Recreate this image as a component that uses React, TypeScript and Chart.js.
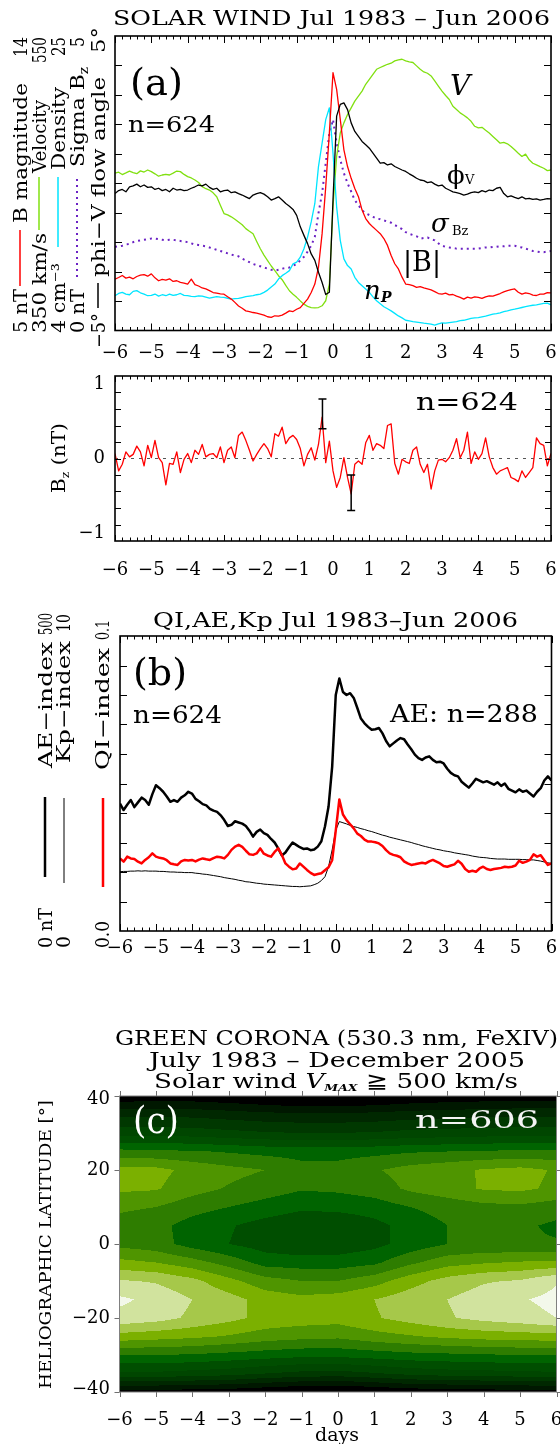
import React, { useEffect, useRef } from "react";
import { Chart, registerables } from "chart.js";

Chart.register(...registerables);

const W = 560;
const FONT = '"DejaVu Serif", serif';

// ---------- shared x grid (days from shock) ----------
const days = [-6,-5.9,-5.8,-5.7,-5.6,-5.5,-5.4,-5.3,-5.2,-5.1,-5,-4.9,-4.8,-4.7,-4.6,-4.5,-4.4,-4.3,-4.2,-4.1,-4,-3.9,-3.8,-3.7,-3.6,-3.5,-3.4,-3.3,-3.2,-3.1,-3,-2.9,-2.8,-2.7,-2.6,-2.5,-2.4,-2.3,-2.2,-2.1,-2,-1.9,-1.8,-1.7,-1.6,-1.5,-1.4,-1.3,-1.2,-1.1,-1,-0.9,-0.8,-0.7,-0.6,-0.5,-0.4,-0.3,-0.2,-0.1,0,0.1,0.2,0.3,0.4,0.5,0.6,0.7,0.8,0.9,1,1.1,1.2,1.3,1.4,1.5,1.6,1.7,1.8,1.9,2,2.1,2.2,2.3,2.4,2.5,2.6,2.7,2.8,2.9,3,3.1,3.2,3.3,3.4,3.5,3.6,3.7,3.8,3.9,4,4.1,4.2,4.3,4.4,4.5,4.6,4.7,4.8,4.9,5,5.1,5.2,5.3,5.4,5.5,5.6,5.7,5.8,5.9,6];

const dayTicks = [-6,-5,-4,-3,-2,-1,0,1,2,3,4,5,6];
const dayTickLabels = ["\u22126","\u22125","\u22124","\u22123","\u22122","\u22121","0","1","2","3","4","5","6"];

// ---------- panel (a) solar wind ----------
const velocity = [
456.8,457.5,455.9,457.0,458.2,457.2,456.5,458.4,457.6,459.0,
457.9,456.4,454.8,455.6,456.1,455.6,456.9,458.3,457.9,456.0,
454.5,453.6,452.2,450.5,447.7,446.3,445.4,443.5,440.8,435.0,
429.4,428.5,427.2,425.6,423.7,421.8,419.2,417.4,415.7,410.5,
405.5,401.2,397.5,393.8,390.7,387.2,384.5,380.6,377.0,374.6,
372.5,370.1,367.9,366.4,365.6,365.3,365.6,366.8,370.2,381.6,
434.0,468.2,484.1,491.0,496.7,501.2,505.8,509.2,512.6,517.2,
520.6,524.0,527.4,528.6,529.7,530.8,531.5,533.1,533.8,534.2,
533.1,532.4,532.0,529.7,527.4,525.6,524.7,522.9,519.5,516.0,
512.6,509.6,506.9,502.3,500.1,497.8,496.2,494.4,492.1,488.7,
487.6,488.0,486.0,484.1,481.8,479.5,477.2,477.7,476.8,475.0,
472.7,470.4,468.2,469.8,465.9,463.6,462.5,461.3,460.2,458.6,
459.0];

const bMagnitude = [
6.57,6.62,6.68,6.60,6.63,6.58,6.65,6.69,6.71,6.66,
6.73,6.61,6.52,6.56,6.54,6.58,6.50,6.52,6.47,6.45,
6.42,6.57,6.40,6.36,6.30,6.27,6.22,6.16,6.14,6.12,
6.11,6.03,5.96,5.86,5.75,5.68,5.60,5.58,5.55,5.53,
5.50,5.47,5.42,5.40,5.45,5.44,5.47,5.53,5.60,5.58,
5.65,5.70,5.83,5.96,6.16,6.42,6.93,7.96,9.39,11.04,
12.88,12.37,11.45,10.52,10.01,9.65,9.34,9.09,8.68,8.42,
8.27,8.16,8.06,7.96,7.81,7.60,7.29,7.04,6.88,6.63,
6.42,6.40,6.37,6.32,6.34,6.30,6.27,6.24,6.19,6.13,
6.11,6.14,6.09,6.10,6.05,6.01,5.96,6.02,5.99,6.03,
6.01,5.98,6.03,6.06,6.05,6.09,6.13,6.18,6.22,6.25,
6.27,6.17,6.11,6.15,6.13,6.08,6.07,6.11,6.11,6.16,
6.15];

const density = [
6.48,6.64,6.72,6.60,6.55,6.79,6.84,6.69,6.60,6.48,
6.50,6.60,6.45,6.55,6.48,6.60,6.50,6.55,6.64,6.50,
6.48,6.44,6.41,6.47,6.45,6.38,6.31,6.36,6.41,6.38,
6.36,6.30,6.24,6.27,6.29,6.35,6.41,6.45,6.48,6.55,
6.60,6.72,6.88,7.10,7.31,7.67,7.91,8.08,8.27,8.75,
8.87,9.23,9.83,10.66,11.74,13.06,15.69,17.36,19.04,19.88,
16.65,12.82,10.43,9.11,8.63,8.39,7.79,7.43,7.19,6.96,
6.72,6.40,6.12,5.90,5.69,5.55,5.40,5.22,5.04,4.90,
4.73,4.68,4.63,4.60,4.56,4.52,4.49,4.45,4.39,4.47,
4.54,4.52,4.56,4.60,4.63,4.70,4.73,4.80,4.87,4.90,
4.92,4.97,5.02,5.10,5.16,5.20,5.26,5.35,5.40,5.47,
5.52,5.58,5.64,5.70,5.76,5.80,5.83,5.88,5.93,5.95,
5.83];

const sigmaBz = [
1.42,1.43,1.44,1.46,1.47,1.50,1.52,1.53,1.54,1.55,
1.56,1.56,1.55,1.54,1.53,1.54,1.54,1.53,1.52,1.51,
1.50,1.48,1.46,1.45,1.44,1.43,1.41,1.39,1.37,1.35,
1.33,1.31,1.29,1.27,1.26,1.22,1.19,1.16,1.13,1.11,
1.09,1.07,1.05,1.03,1.02,1.03,1.05,1.06,1.07,1.10,
1.13,1.19,1.25,1.34,1.44,1.59,1.99,2.33,2.84,3.35,
3.58,3.18,2.90,2.67,2.50,2.36,2.21,2.13,2.04,1.99,
1.96,1.93,1.90,1.89,1.87,1.85,1.83,1.79,1.76,1.72,
1.67,1.64,1.62,1.60,1.56,1.57,1.58,1.55,1.53,1.48,
1.44,1.42,1.41,1.40,1.39,1.39,1.39,1.39,1.39,1.39,
1.39,1.40,1.41,1.41,1.42,1.42,1.43,1.43,1.44,1.44,
1.44,1.42,1.41,1.39,1.37,1.35,1.34,1.33,1.33,1.34,
1.35];

const phiV = [
-0.35,-0.25,-0.21,-0.29,-0.12,-0.09,-0.03,-0.12,-0.06,-0.14,
-0.12,-0.21,-0.17,-0.25,-0.21,-0.29,-0.17,-0.23,-0.21,-0.25,
-0.23,-0.17,-0.12,-0.06,-0.09,-0.03,-0.14,-0.21,-0.17,-0.29,
-0.25,-0.23,-0.32,-0.29,-0.35,-0.40,-0.46,-0.52,-0.40,-0.35,
-0.32,-0.37,-0.46,-0.57,-0.52,-0.46,-0.57,-0.69,-0.78,-0.89,
-1.09,-1.48,-1.77,-2.05,-2.40,-2.62,-3.02,-3.37,-3.78,-3.70,
-0.57,2.28,2.68,2.73,2.50,2.05,1.76,1.59,1.42,1.31,
1.19,1.02,0.85,0.68,0.70,0.62,0.66,0.57,0.51,0.45,
0.40,0.32,0.25,0.17,0.11,0.09,0.02,0.05,-0.03,-0.09,
-0.06,-0.17,-0.23,-0.29,-0.32,-0.35,-0.40,-0.37,-0.32,-0.29,
-0.32,-0.25,-0.29,-0.23,-0.25,-0.17,-0.14,-0.35,-0.46,-0.43,
-0.48,-0.52,-0.46,-0.53,-0.51,-0.55,-0.53,-0.57,-0.55,-0.52,
-0.53];

// ---------- Bz panel ----------
const bz = [
0.06,-0.15,-0.07,0.08,0.02,0.05,0.15,0.08,-0.09,0.16,
0.01,0.22,0.01,-0.05,-0.32,-0.06,-0.07,0.08,-0.17,-0.01,
0.06,-0.05,0.10,0.05,0.17,0.02,0.05,0.06,0.01,0.14,
-0.05,0.10,0.14,0.01,0.28,0.32,0.22,0.10,-0.03,0.05,
0.12,0.18,0.12,0.02,0.30,0.27,0.38,0.18,0.25,0.28,
0.23,0.12,-0.09,0.05,0.13,-0.02,0.17,0.50,-0.05,0.21,
-0.15,-0.35,-0.23,0.01,-0.23,-0.43,-0.07,-0.03,-0.07,0.19,
0.28,0.10,0.18,0.16,0.12,0.40,0.42,-0.06,-0.19,-0.01,
-0.04,-0.06,0.10,0.14,-0.07,-0.17,-0.07,-0.37,-0.15,-0.02,
-0.01,-0.04,0.01,0.10,0.24,0.01,0.10,0.32,-0.06,0.08,
-0.01,0.06,0.25,0.02,-0.11,-0.19,-0.15,-0.13,-0.11,-0.23,
-0.25,-0.28,-0.15,-0.23,-0.17,-0.11,0.25,0.18,0.16,-0.09,
0.06];
const bzErrDays = [-0.29, 0.5];
const bzErrLow = [0.36, -0.63];
const bzErrHigh = [0.72, -0.2];
const zeroLineDays = [-6, 6];
const zeroLineValues = [0, 0];
const bzTickValues = [1, 0, -1];
const bzTickLabels = ["1", "0", "\u22121"];

// ---------- panel (b) QI, AE, Kp ----------
const aeIndex = [
216,205,214,222,210,218,226,222,214,232,
247,242,236,228,219,222,219,226,230,236,
233,224,220,215,213,207,204,202,196,188,
178,180,186,184,182,178,170,160,168,172,
166,163,156,150,140,128,133,142,150,146,
142,139,140,137,138,143,152,177,211,278,
400,428,405,400,403,395,378,360,352,346,
341,342,344,335,322,313,318,323,327,325,
316,308,299,293,290,294,296,290,286,287,
284,275,268,264,262,253,248,243,250,258,
255,252,254,251,248,252,246,250,241,238,
235,240,236,238,233,228,236,242,255,262,
255];

const kpIndex = [
2.01,2.02,2.02,2.03,2.03,2.04,2.03,2.04,2.03,2.03,
2.03,2.02,2.02,2.01,2.00,2.00,1.99,1.99,1.98,1.98,
1.98,1.96,1.95,1.93,1.92,1.90,1.88,1.86,1.84,1.81,
1.79,1.77,1.75,1.72,1.70,1.67,1.66,1.64,1.62,1.61,
1.59,1.58,1.57,1.56,1.55,1.54,1.53,1.52,1.51,1.51,
1.50,1.51,1.52,1.53,1.57,1.62,1.71,1.84,2.18,2.75,
3.42,3.71,3.67,3.63,3.58,3.54,3.51,3.47,3.44,3.40,
3.37,3.33,3.29,3.25,3.22,3.18,3.15,3.12,3.09,3.06,
3.03,3.00,2.96,2.93,2.89,2.86,2.83,2.80,2.77,2.75,
2.72,2.70,2.68,2.65,2.63,2.61,2.59,2.57,2.54,2.52,
2.50,2.49,2.48,2.46,2.45,2.44,2.44,2.44,2.43,2.43,
2.43,2.43,2.42,2.42,2.41,2.41,2.39,2.37,2.34,2.31,
2.29];

const qiIndex = [
0.0246,0.0235,0.0252,0.0246,0.0244,0.0235,0.0229,0.0241,0.0250,0.0263,
0.0252,0.0248,0.0246,0.0240,0.0229,0.0226,0.0224,0.0236,0.0241,0.0239,
0.0241,0.0236,0.0242,0.0246,0.0243,0.0241,0.0247,0.0252,0.0250,0.0246,
0.0258,0.0275,0.0286,0.0292,0.0285,0.0272,0.0260,0.0258,0.0263,0.0280,
0.0262,0.0256,0.0252,0.0268,0.0280,0.0258,0.0229,0.0218,0.0209,0.0212,
0.0229,0.0218,0.0207,0.0197,0.0190,0.0193,0.0196,0.0206,0.0216,0.0240,
0.0340,0.0446,0.0395,0.0376,0.0362,0.0348,0.0330,0.0322,0.0310,0.0303,
0.0303,0.0301,0.0297,0.0288,0.0274,0.0263,0.0258,0.0255,0.0250,0.0236,
0.0229,0.0224,0.0226,0.0229,0.0231,0.0229,0.0236,0.0241,0.0235,0.0229,
0.0220,0.0218,0.0222,0.0226,0.0238,0.0228,0.0210,0.0201,0.0204,0.0201,
0.0212,0.0218,0.0210,0.0207,0.0210,0.0212,0.0214,0.0218,0.0216,0.0218,
0.0222,0.0238,0.0231,0.0235,0.0241,0.0260,0.0252,0.0257,0.0240,0.0224,
0.0229];

// ---------- panel (c) green corona ----------
const coronaDays = [-6,-5,-4,-3,-2,-1,0,1,2,3,4,5,6];
const coronaLats = [40,35,30,25,20,15,10,5,0,-5,-10,-15,-20,-25,-30,-35,-40];
const coronaGrid = [
[0.2,0.3,0.3,0.1,-0.2,-0.5,-0.5,-0.3,0.0,0.2,0.3,0.4,0.4],
[2.8,2.8,2.7,2.5,2.3,2.2,2.2,2.3,2.5,2.6,2.7,2.8,2.8],
[4.6,4.6,4.5,4.3,4.1,4.0,4.0,4.1,4.3,4.4,4.5,4.6,4.6],
[7.3,7.2,7.1,6.9,6.7,6.6,6.6,6.7,6.9,7.0,7.1,7.2,7.2],
[9.4,9.3,8.7,8.3,8.0,7.4,7.4,7.9,8.4,8.7,9.1,9.3,8.9],
[9.2,9.1,8.4,7.9,7.5,7.1,7.2,7.5,8.2,8.6,9.1,9.2,8.8],
[8.2,8.0,7.4,7.0,6.6,6.2,6.3,6.5,7.0,7.4,7.7,7.8,7.5],
[7.6,7.3,6.6,6.1,5.6,5.2,5.2,5.7,6.4,7.0,7.3,7.2,6.8],
[7.7,7.4,6.6,6.0,5.5,5.2,5.3,5.7,6.4,7.0,7.2,7.1,7.1],
[9.3,9.0,8.4,7.6,6.6,6.5,6.5,6.8,7.8,8.6,8.9,9.1,9.2],
[11.1,10.9,10.3,9.3,8.4,8.0,8.0,8.6,9.6,10.4,10.9,11.1,11.9],
[12.2,11.7,11.0,10.4,9.6,9.3,9.5,10.0,10.6,11.0,11.5,11.9,12.3],
[11.7,11.4,10.8,10.3,9.7,9.5,9.4,9.9,10.4,10.9,11.3,11.6,12.0],
[9.6,9.4,9.2,8.9,8.5,8.3,8.2,8.6,8.9,9.2,9.4,9.5,9.6],
[7.0,7.0,6.9,6.7,6.5,6.3,6.3,6.5,6.7,6.8,6.9,7.0,7.0],
[4.8,4.8,4.6,4.4,4.0,3.7,3.6,3.9,4.3,4.5,4.6,4.7,4.8],
[0.5,0.5,0.4,0.3,0.0,-0.3,-0.4,-0.1,0.2,0.3,0.4,0.5,0.6],
];
const coronaColors = ["#000000","#001800","#002800","#003800","#004600","#004e00","#006400","#2e7d00","#4f9500","#7bb000","#a6c84a","#d1e39e","#f3f8ea"];
const latTickValues = [40, 20, 0, -20, -40];
const latTickLabels = ["40", "20", "0", "\u221220", "\u221240"];

// ---------- helpers ----------
const pts = (vals: number[]) => days.map((d, i) => ({ x: d, y: vals[i] }));

const lineDs = (label: string, vals: number[], yAxisID: string, color: string, width: number, dash: number[] = []) => ({
  label,
  data: pts(vals),
  yAxisID,
  borderColor: color,
  backgroundColor: color,
  borderWidth: width,
  borderDash: dash,
  pointRadius: 0,
  tension: 0,
  fill: false,
  borderJoinStyle: "round",
});

type FrameCfg = {
  yId: string;
  yTicks: number[];
  inward: boolean;
  majorLen: number;
  minorLen: number;
  minorStep: number;
  boxColor: string;
  boxWidth: number;
  tickColor: string;
  xLabelY: number;
  yLabelX?: number;
  yLabelValues?: number[];
  yLabelTexts?: string[];
  yLabelInset?: number;
};

function makeFrame(cfg: FrameCfg) {
  return {
    id: "idlFrame",
    afterDatasetsDraw(chart: any) {
      const { ctx, chartArea: a } = chart;
      const xs = chart.scales.x;
      const ys = chart.scales[cfg.yId];
      const s = cfg.inward ? 1 : -1;
      ctx.save();
      ctx.strokeStyle = cfg.tickColor;
      ctx.lineWidth = 1;
      ctx.setLineDash([]);
      ctx.beginPath();
      for (const v of dayTicks) {
        const px = Math.round(xs.getPixelForValue(v)) + 0.5;
        ctx.moveTo(px, a.bottom); ctx.lineTo(px, a.bottom - s * cfg.majorLen);
        ctx.moveTo(px, a.top); ctx.lineTo(px, a.top + s * cfg.majorLen);
      }
      if (cfg.minorStep > 0) {
        const n = Math.round((xs.max - xs.min) / cfg.minorStep);
        for (let i = 1; i < n; i++) {
          const px = Math.round(xs.getPixelForValue(xs.min + i * cfg.minorStep)) + 0.5;
          ctx.moveTo(px, a.bottom); ctx.lineTo(px, a.bottom - s * cfg.minorLen);
          ctx.moveTo(px, a.top); ctx.lineTo(px, a.top + s * cfg.minorLen);
        }
      }
      for (const v of cfg.yTicks) {
        const py = Math.round(ys.getPixelForValue(v)) + 0.5;
        ctx.moveTo(a.left, py); ctx.lineTo(a.left + s * cfg.majorLen, py);
        ctx.moveTo(a.right, py); ctx.lineTo(a.right - s * cfg.majorLen, py);
      }
      ctx.stroke();
      ctx.strokeStyle = cfg.boxColor;
      ctx.lineWidth = cfg.boxWidth;
      ctx.strokeRect(a.left, a.top, a.right - a.left, a.bottom - a.top);
      ctx.fillStyle = "#000";
      ctx.font = '18px "DejaVu Serif"';
      ctx.textAlign = "center";
      ctx.textBaseline = "middle";
      dayTicks.forEach((v, i) => ctx.fillText(dayTickLabels[i], xs.getPixelForValue(v), cfg.xLabelY));
      if (cfg.yLabelValues && cfg.yLabelTexts) {
        ctx.textAlign = "right";
        const inset = cfg.yLabelInset ?? 0;
        cfg.yLabelValues.forEach((v, i) => {
          const py = Math.min(a.bottom - inset, Math.max(a.top + inset, ys.getPixelForValue(v)));
          ctx.fillText(cfg.yLabelTexts![i], cfg.yLabelX!, py);
        });
      }
      ctx.restore();
    },
  };
}

const errorBarPlugin = {
  id: "bzErrors",
  afterDatasetsDraw(chart: any) {
    const { ctx } = chart;
    const xs = chart.scales.x;
    const ys = chart.scales.y;
    ctx.save();
    ctx.strokeStyle = "#000";
    ctx.lineWidth = 1.5;
    ctx.beginPath();
    bzErrDays.forEach((d, i) => {
      const px = xs.getPixelForValue(d);
      const pl = ys.getPixelForValue(bzErrLow[i]);
      const ph = ys.getPixelForValue(bzErrHigh[i]);
      ctx.moveTo(px, pl); ctx.lineTo(px, ph);
      ctx.moveTo(px - 4, pl); ctx.lineTo(px + 4, pl);
      ctx.moveTo(px - 4, ph); ctx.lineTo(px + 4, ph);
    });
    ctx.stroke();
    ctx.restore();
  },
};

const contourPlugin = {
  id: "corona",
  beforeDatasetsDraw(chart: any) {
    const { ctx, chartArea: a } = chart;
    const xs = chart.scales.x;
    const ys = chart.scales.y;
    const nC = coronaDays.length;
    const nR = coronaLats.length;
    const x0 = Math.floor(a.left), x1 = Math.ceil(a.right);
    const y0 = Math.floor(a.top), y1 = Math.ceil(a.bottom);
    const g = coronaGrid;
    for (let py = y0; py < y1; py++) {
      const lat = ys.getValueForPixel(py + 0.5);
      let r = 0;
      while (r < nR - 2 && lat < coronaLats[r + 1]) r++;
      let tr = (coronaLats[r] - lat) / (coronaLats[r] - coronaLats[r + 1]);
      tr = Math.max(0, Math.min(1, tr));
      let runStart = x0;
      let runColor = "";
      for (let px = x0; px <= x1; px++) {
        let color = "";
        if (px < x1) {
          const d = xs.getValueForPixel(px + 0.5);
          let c = 0;
          while (c < nC - 2 && d > coronaDays[c + 1]) c++;
          let tc = (d - coronaDays[c]) / (coronaDays[c + 1] - coronaDays[c]);
          tc = Math.max(0, Math.min(1, tc));
          const z = (1 - tr) * ((1 - tc) * g[r][c] + tc * g[r][c + 1]) + tr * ((1 - tc) * g[r + 1][c] + tc * g[r + 1][c + 1]);
          const k = Math.max(0, Math.min(coronaColors.length - 1, Math.floor(z)));
          color = coronaColors[k];
        }
        if (color !== runColor) {
          if (runColor) {
            ctx.fillStyle = runColor;
            ctx.fillRect(runStart, py, px - runStart, 1);
          }
          runColor = color;
          runStart = px;
        }
      }
    }
  },
};

const baseOptions = (pad: any, yScales: any) => ({
  animation: false,
  responsive: false,
  maintainAspectRatio: false,
  devicePixelRatio: 1,
  events: [],
  layout: { padding: pad, autoPadding: false },
  plugins: { legend: { display: false }, tooltip: { enabled: false } },
  scales: { x: { type: "linear", min: -6, max: 6, display: false }, ...yScales },
});

// ---------- chart builders ----------
const A_TOP = 0, A_H = 370;
const BZ_TOP = 370, BZ_H = 215;
const B_TOP = 600, B_H = 365;
const C_TOP = 1080, C_H = 364;
const C_BOX_TOP = 1096, C_BOX_BOTTOM = 1392;

const buildA = (cv: HTMLCanvasElement) =>
  new Chart(cv, {
    type: "line",
    data: {
      datasets: [
        lineDs("phi-V flow angle", phiV, "yP", "#000000", 1.3),
        lineDs("B magnitude", bMagnitude, "yB", "#ff0000", 1.3),
        lineDs("Density", density, "yN", "#00e5ff", 1.3),
        lineDs("Velocity", velocity, "yV", "#80e010", 1.3),
        lineDs("Sigma Bz", sigmaBz, "yS", "#6b22c4", 2, [2, 4]),
      ] as any,
    },
    options: baseOptions(
      { left: 115, right: W - 551, top: 36 - A_TOP, bottom: A_TOP + A_H - 330.5 },
      {
        yB: { type: "linear", min: 5, max: 14, display: false },
        yV: { type: "linear", min: 350, max: 550, display: false },
        yN: { type: "linear", min: 4, max: 25, display: false },
        yS: { type: "linear", min: 0, max: 5, display: false },
        yP: { type: "linear", min: -5, max: 5, display: false },
      }
    ) as any,
    plugins: [
      makeFrame({
        yId: "yP", yTicks: [-4, -3, -2, -1, 0, 1, 2, 3, 4], inward: true,
        majorLen: 7, minorLen: 3.5, minorStep: 0.2, boxColor: "#000", boxWidth: 1.6,
        tickColor: "#000", xLabelY: 353 - A_TOP,
      }),
    ],
  });

const buildBz = (cv: HTMLCanvasElement) =>
  new Chart(cv, {
    type: "line",
    data: {
      datasets: [
        lineDs("Bz", bz, "y", "#ff0000", 1.3),
        {
          label: "zero",
          data: zeroLineDays.map((d, i) => ({ x: d, y: zeroLineValues[i] })),
          yAxisID: "y",
          borderColor: "#555555",
          borderWidth: 1,
          borderDash: [3, 5],
          pointRadius: 0,
          fill: false,
        },
      ] as any,
    },
    options: baseOptions(
      { left: 115, right: W - 551, top: 376 - BZ_TOP, bottom: BZ_TOP + BZ_H - 541 },
      { y: { type: "linear", min: -1, max: 1, display: false } }
    ) as any,
    plugins: [
      errorBarPlugin,
      makeFrame({
        yId: "y", yTicks: [-0.8, -0.6, -0.4, -0.2, 0, 0.2, 0.4, 0.6, 0.8], inward: true,
        majorLen: 6, minorLen: 3.5, minorStep: 0.2, boxColor: "#000", boxWidth: 1.6,
        tickColor: "#000", xLabelY: 570 - BZ_TOP, yLabelX: 105,
        yLabelValues: bzTickValues, yLabelTexts: bzTickLabels, yLabelInset: 8,
      }),
    ],
  });

const buildB = (cv: HTMLCanvasElement) =>
  new Chart(cv, {
    type: "line",
    data: {
      datasets: [
        lineDs("QI-index", qiIndex, "yQ", "#ff0000", 2.5),
        lineDs("AE-index", aeIndex, "yAE", "#000000", 2.5),
        lineDs("Kp-index", kpIndex, "yKp", "#000000", 1),
      ] as any,
    },
    options: baseOptions(
      { left: 120, right: W - 551.5, top: 636 - B_TOP, bottom: B_TOP + B_H - 931 },
      {
        yQ: { type: "linear", min: 0, max: 0.1, display: false },
        yAE: { type: "linear", min: 0, max: 500, display: false },
        yKp: { type: "linear", min: 0, max: 10, display: false },
      }
    ) as any,
    plugins: [
      makeFrame({
        yId: "yQ", yTicks: [0.01, 0.02, 0.03, 0.04, 0.05, 0.06, 0.07, 0.08, 0.09], inward: true,
        majorLen: 7, minorLen: 3.5, minorStep: 0.2, boxColor: "#000", boxWidth: 1.6,
        tickColor: "#000", xLabelY: 948 - B_TOP,
      }),
    ],
  });

const buildC = (cv: HTMLCanvasElement) =>
  new Chart(cv, {
    type: "scatter",
    data: { datasets: [] },
    options: baseOptions(
      { left: 119.5, right: W - 556.5, top: C_BOX_TOP - C_TOP, bottom: C_TOP + C_H - C_BOX_BOTTOM },
      { y: { type: "linear", min: -40, max: 40, display: false } }
    ) as any,
    plugins: [
      contourPlugin,
      makeFrame({
        yId: "y", yTicks: latTickValues, inward: false,
        majorLen: 5, minorLen: 0, minorStep: 0, boxColor: "#808080", boxWidth: 1,
        tickColor: "#707070", xLabelY: 1420 - C_TOP, yLabelX: 110,
        yLabelValues: latTickValues, yLabelTexts: latTickLabels, yLabelInset: 3,
      }),
    ],
  });

function ChartCanvas({ top, height, build }: { top: number; height: number; build: (c: HTMLCanvasElement) => Chart }) {
  const ref = useRef<HTMLCanvasElement | null>(null);
  useEffect(() => {
    if (!ref.current) return;
    const chart = build(ref.current);
    return () => chart.destroy();
  }, [build]);
  return (
    <canvas
      ref={ref}
      width={W}
      height={height}
      style={{ position: "absolute", left: 0, top, width: W, height, display: "block" }}
    />
  );
}

// ---------- SVG text helpers ----------
// Rotated (bottom-to-top) text stretched to span y0 (start, bottom) .. y1 (end, top).
function VText({ cx, y0, y1, size = 19, fill = "#000", fit = true, children }: any) {
  const bx = cx + size * 0.36;
  const extra: any = {};
  if (fit && y1 !== undefined) {
    extra.textLength = y0 - y1;
    extra.lengthAdjust = "spacingAndGlyphs";
  }
  return (
    <text x={bx} y={y0} fontSize={size} fill={fill} transform={`rotate(-90 ${bx} ${y0})`} {...extra}>
      {children}
    </text>
  );
}

function VLine({ cx, y0, y1, color, width = 1.5, dash }: any) {
  return <line x1={cx} x2={cx} y1={y0} y2={y1} stroke={color} strokeWidth={width} strokeDasharray={dash} />;
}

function HText({ x, y, size, len, fill = "#000", children, ...rest }: any) {
  return (
    <text x={x} y={y} fontSize={size} fill={fill} textLength={len} lengthAdjust={len ? "spacingAndGlyphs" : undefined} {...rest}>
      {children}
    </text>
  );
}

function Overlay() {
  return (
    <svg
      width={W}
      height={1444}
      style={{ position: "absolute", left: 0, top: 0, fontFamily: FONT, pointerEvents: "none" }}
    >
      {/* panel (a) */}
      <HText x={113} y={25} size={20} len={437}>SOLAR WIND Jul 1983 – Jun 2006</HText>
      <VText cx={20} y0={333} y1={289}>5 nT</VText>
      <VLine cx={20} y0={286} y1={230} color="#ff0000" />
      <VText cx={20} y0={223} y1={83}>B magnitude</VText>
      <VText cx={20} y0={57} y1={37}>14</VText>

      <VText cx={39} y0={333} y1={233}>350 km/s</VText>
      <VLine cx={39} y0={230} y1={177} color="#80e010" />
      <VText cx={39} y0={173} y1={100}>Velocity</VText>
      <VText cx={39} y0={63} y1={37}>550</VText>

      <VText cx={58} y0={333} y1={263}>4 cm⁻³</VText>
      <VLine cx={58} y0={247} y1={177} color="#00e5ff" />
      <VText cx={58} y0={170} y1={87}>Density</VText>
      <VText cx={58} y0={56} y1={37}>25</VText>

      <VText cx={77} y0={333} y1={289}>0 nT</VText>
      <VLine cx={77} y0={277} y1={177} color="#6b22c4" width={2} dash="2 4" />
      <VText cx={77} y0={167} y1={67}>Sigma B<tspan fontSize={12} dy={4}>z</tspan></VText>
      <VText cx={77} y0={47} y1={37}>5</VText>

      <VText cx={98} y0={348} y1={313}>−5°</VText>
      <VLine cx={98} y0={308} y1={283} color="#000" />
      <VText cx={98} y0={277} y1={77}>phi−V flow angle</VText>
      <VText cx={98} y0={53} y1={27}>5°</VText>

      <HText x={130} y={95} size={38} len={53}>(a)</HText>
      <HText x={128} y={132} size={23} len={87}>n=624</HText>
      <text x={450} y={95} fontSize={28} fontStyle="italic">V</text>
      <text x={447} y={184} fontSize={26}>ϕ</text>
      <text x={465} y={184} fontSize={13}>V</text>
      <text x={431} y={232} fontSize={26} fontStyle="italic">σ</text>
      <text x={452} y={235} fontSize={13}>Bz</text>
      <text x={403} y={271} fontSize={27}>|B|</text>
      <text x={364} y={299} fontSize={26} fontStyle="italic">n</text>
      <text x={381} y={302} fontSize={14} fontStyle="italic" fontWeight="bold">P</text>

      {/* Bz panel */}
      <HText x={416} y={410} size={25} len={102}>n=624</HText>
      <VText cx={59} y0={493} y1={423} size={18}>
        B<tspan fontSize={11} dy={4}>z</tspan><tspan dy={-4}> (nT)</tspan>
      </VText>

      {/* panel (b) */}
      <HText x={153} y={627} size={20} len={365}>QI,AE,Kp Jul 1983–Jun 2006</HText>
      <VText cx={45} y0={948} y1={908}>0 nT</VText>
      <VLine cx={45} y0={877} y1={797} color="#000" width={2.5} />
      <VText cx={45} y0={768} y1={642}>AE−index</VText>
      <VText cx={45} y0={635} y1={613}>500</VText>
      <VText cx={63} y0={948} y1={936}>0</VText>
      <VLine cx={64} y0={883} y1={798} color="#000" width={1} />
      <VText cx={63} y0={763} y1={641}>Kp−index</VText>
      <VText cx={63} y0={632} y1={614}>10</VText>
      <VText cx={102} y0={948} y1={921}>0.0</VText>
      <VLine cx={103} y0={887} y1={798} color="#ff0000" width={2.5} />
      <VText cx={102} y0={770} y1={648}>QI−index</VText>
      <VText cx={102} y0={640} y1={620}>0.1</VText>
      <HText x={133} y={685} size={38} len={54}>(b)</HText>
      <HText x={133} y={723} size={25} len={89}>n=624</HText>
      <HText x={390} y={722} size={25} len={148}>AE: n=288</HText>

      {/* panel (c) */}
      <HText x={115} y={1045} size={21} len={443}>GREEN CORONA (530.3 nm, FeXIV)</HText>
      <HText x={149} y={1067} size={21} len={376}>July 1983 – December 2005</HText>
      <HText x={154} y={1088} size={21} len={364}>
        Solar wind <tspan fontStyle="italic">V</tspan>
        <tspan fontSize={10} fontStyle="italic" fontWeight="bold" dy={3}>MAX</tspan>
        <tspan dy={-3}> ≧ 500 km/s</tspan>
      </HText>
      <HText x={133} y={1133} size={38} len={46} fill="#ffffff">(c)</HText>
      <HText x={415} y={1128} size={25} len={124} fill="#f4f4f4">n=606</HText>
      <VText cx={45} y0={1389} y1={1100} size={17}>HELIOGRAPHIC LATITUDE [°]</VText>
      <text x={337} y={1441} fontSize={19} textAnchor="middle">days</text>
    </svg>
  );
}

export default function App() {
  return (
    <div style={{ position: "absolute", left: 0, top: 0, width: W, height: 1444, background: "#ffffff", overflow: "hidden" }}>
      <ChartCanvas top={A_TOP} height={A_H} build={buildA} />
      <ChartCanvas top={BZ_TOP} height={BZ_H} build={buildBz} />
      <ChartCanvas top={B_TOP} height={B_H} build={buildB} />
      <ChartCanvas top={C_TOP} height={C_H} build={buildC} />
      <Overlay />
    </div>
  );
}
